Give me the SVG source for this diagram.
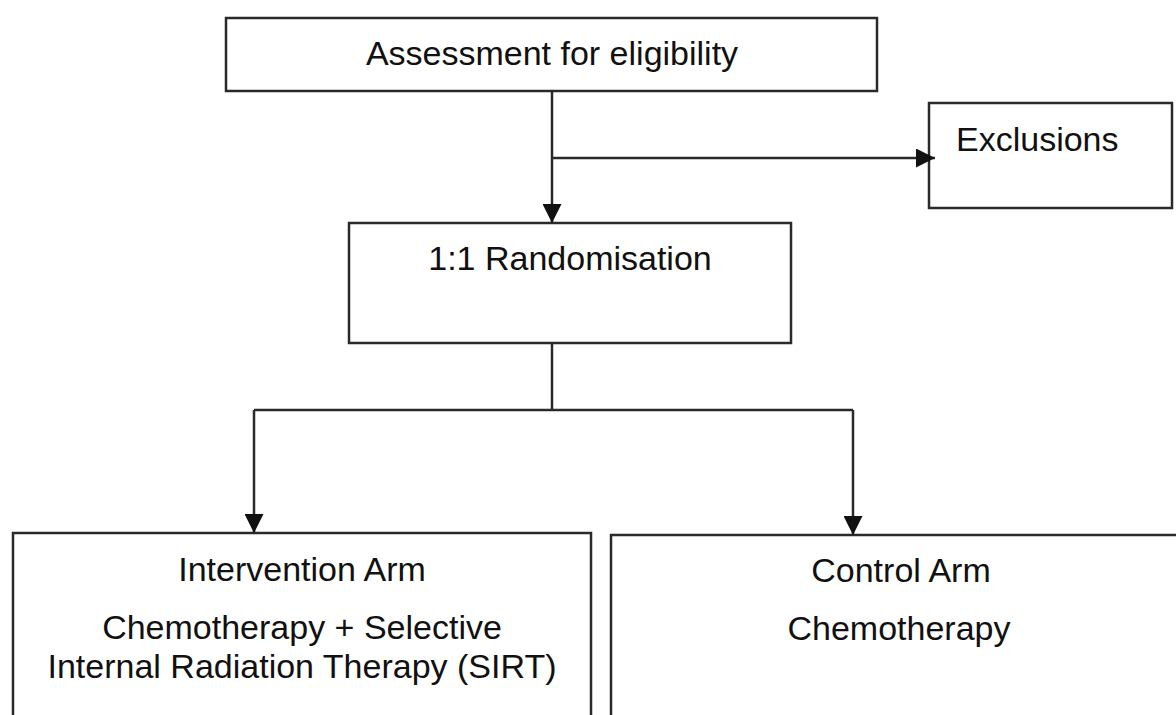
<svg xmlns="http://www.w3.org/2000/svg" width="1176" height="715" viewBox="0 0 1176 715">
  <style>
    .box { fill: #ffffff; stroke: #2a2a2a; stroke-width: 2.5; }
    .conn { fill: none; stroke: #2a2a2a; stroke-width: 2.5; }
    .lbl { font-family: "Liberation Sans", Arial, sans-serif; font-size: 34px; fill: #111111; }
    .mid { text-anchor: middle; }
  </style>
  <defs>
    <marker id="arrow" markerUnits="userSpaceOnUse" markerWidth="19" markerHeight="19" refX="19" refY="9.5" orient="auto" viewBox="0 0 19 19">
      <path d="M0,0 L19,9.5 L0,19 z" fill="#111111"/>
    </marker>
  </defs>
  <rect width="1176" height="715" fill="#ffffff"/>

  <g id="assessment">
    <rect class="box" x="226" y="18" width="651" height="73"/>
    <text class="lbl mid" x="552" y="65">Assessment for eligibility</text>
  </g>

  <g id="exclusions">
    <rect class="box" x="929" y="103" width="243" height="105"/>
    <text class="lbl" x="956" y="151">Exclusions</text>
  </g>

  <g id="randomisation">
    <rect class="box" x="349" y="223" width="442" height="120"/>
    <text class="lbl mid" x="570" y="270">1:1 Randomisation</text>
  </g>

  <g id="intervention">
    <rect class="box" x="13" y="533" width="578" height="200"/>
    <text class="lbl mid" x="302" y="581">Intervention Arm</text>
    <text class="lbl mid" x="302" y="639">Chemotherapy + Selective</text>
    <text class="lbl mid" x="302" y="678">Internal Radiation Therapy (SIRT)</text>
  </g>

  <g id="control">
    <rect class="box" x="611" y="535" width="600" height="200"/>
    <text class="lbl mid" x="901" y="582">Control Arm</text>
    <text class="lbl mid" x="899" y="640">Chemotherapy</text>
  </g>

  <g id="connectors">
    <path class="conn" d="M552,91 L552,223" marker-end="url(#arrow)"/>
    <path class="conn" d="M552,158 L935,158" marker-end="url(#arrow)"/>
    <path class="conn" d="M552,343 L552,410"/>
    <path class="conn" d="M254,410 L853,410"/>
    <path class="conn" d="M254,410 L254,533" marker-end="url(#arrow)"/>
    <path class="conn" d="M853,410 L853,535" marker-end="url(#arrow)"/>
  </g>
</svg>
